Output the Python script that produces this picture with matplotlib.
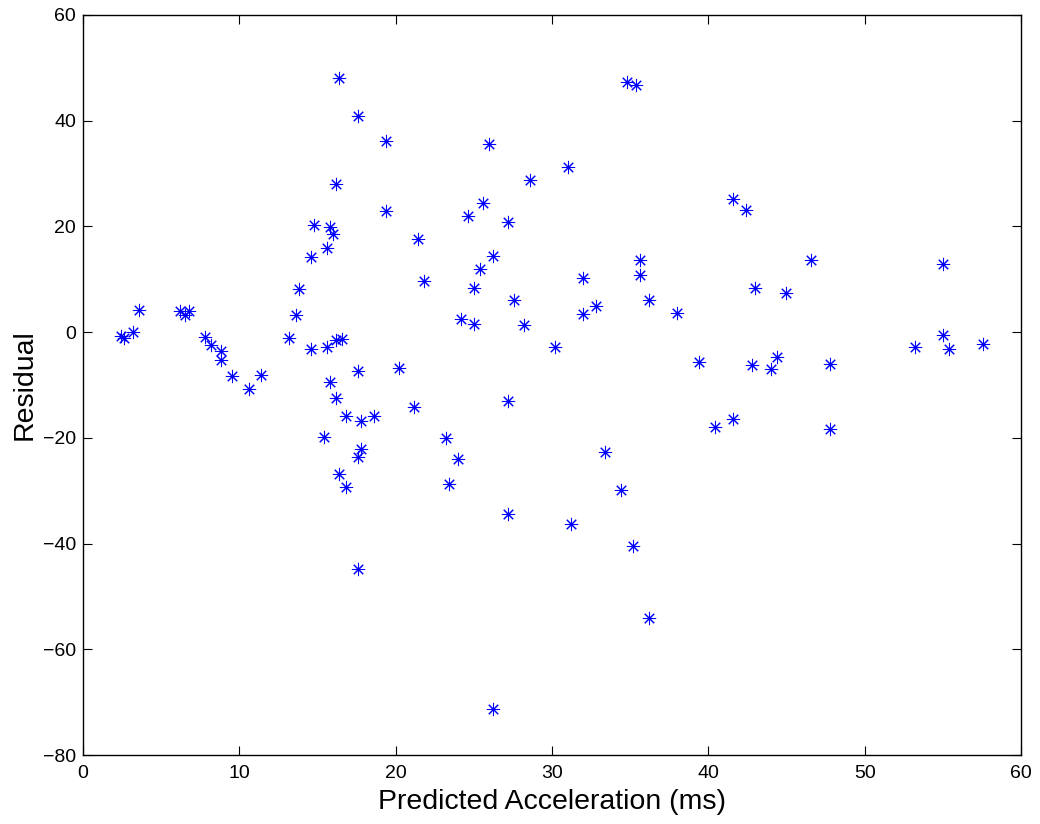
import matplotlib
matplotlib.use("Agg")
import matplotlib.pyplot as plt
import numpy as np

plt.rcParams['font.family'] = ['Liberation Sans', 'DejaVu Sans']

# predicted acceleration (ms) vs residual
pred = [2.4, 2.6, 3.2, 3.6,
        6.2, 6.5, 6.8, 7.8, 8.2, 8.8, 8.8, 9.5, 10.6, 11.4,
        13.2, 13.6, 13.8, 14.6, 14.8, 14.6,
        15.4, 15.6, 15.6, 15.8, 16.0, 15.8,
        16.2, 16.2, 16.6, 16.2, 16.4, 16.8, 16.8, 16.4,
        17.6, 17.6, 17.8, 17.8, 17.6, 17.6, 18.6,
        19.4, 19.4, 20.2, 21.2, 21.4, 21.8,
        23.2, 23.4, 24.0, 24.2, 24.6, 25.0, 25.0, 25.4, 25.6,
        26.0, 26.2, 26.2, 27.2, 27.2, 27.2, 27.6, 28.2, 28.6,
        30.2, 31.0, 31.2, 32.0, 32.0, 32.8, 33.4, 34.4,
        34.8, 35.4, 35.2, 35.6, 35.6, 36.2, 36.2,
        38.0, 39.4, 40.4, 41.6, 41.6, 42.4, 42.8, 43.0,
        44.0, 44.4, 45.0, 46.6, 47.8, 47.8,
        53.2, 55.0, 55.0, 55.4, 57.6]
resid = [-0.7, -1.1, 0.1, 4.2,
         4.0, 3.2, 4.0, -0.9, -2.5, -3.6, -5.2, -8.3, -10.7, -8.1,
         -1.1, 3.2, 8.2, 14.3, 20.2, -3.2,
         -19.9, 15.9, -2.8, 19.9, 18.5, -9.4,
         28.1, -1.4, -1.3, -12.4, -26.9, -15.8, -29.2, 48.1,
         40.8, -7.3, -16.9, -22.1, -23.6, -44.9, -15.8,
         36.2, 22.9, -6.7, -14.2, 17.6, 9.6,
         -20.1, -28.8, -24.0, 2.5, 21.9, 8.4, 1.6, 11.9, 24.4,
         35.6, 14.4, -71.3, 20.8, -13.0, -34.4, 6.0, 1.4, 28.8,
         -2.9, 31.2, -36.3, 10.3, 3.5, 4.9, -22.6, -29.8,
         47.3, 46.8, -40.4, 13.7, 10.9, 6.1, -54.1,
         3.7, -5.7, -17.9, 25.2, -16.4, 23.2, -6.3, 8.4,
         -6.9, -4.7, 7.5, 13.7, -6.1, -18.3,
         -2.9, 12.8, -0.6, -3.1, -2.3]

fig = plt.figure(figsize=(10.4, 8.24), dpi=100)
ax = fig.add_axes([0.0798, 0.0837, 0.9019, 0.8981])

ax.plot(pred, resid, linestyle='none', marker=(8, 2, 0), markersize=9.5,
        markeredgewidth=0.75, color='blue')

ax.set_xlim(0, 60)
ax.set_ylim(-80, 60)
ax.set_xticks(np.arange(0, 61, 10))
ax.set_yticks(np.arange(-80, 61, 20))
ax.tick_params(direction='in', length=6.5, width=0.8, top=True, right=True,
               labelsize=14)
ax.tick_params(axis='x', pad=7)
ax.tick_params(axis='y', pad=5)
ax.yaxis.set_major_formatter(matplotlib.ticker.FuncFormatter(
    lambda v, p: '%d' % v if v >= 0 else '\u2212%d' % -v))
for s in ax.spines.values():
    s.set_linewidth(1.0)

ax.set_xlabel('Predicted Acceleration (ms)', fontsize=20.5, labelpad=5)
ax.set_ylabel('Residual', fontsize=20.5, labelpad=4)

fig.savefig('out.png', dpi=100)
